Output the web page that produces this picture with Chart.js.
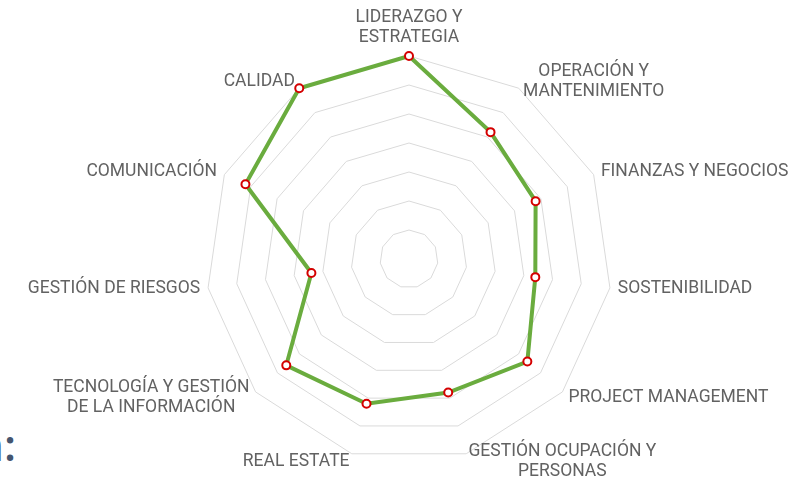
<!DOCTYPE html>
<html>
<head>
<meta charset="utf-8">
<script src="https://cdn.jsdelivr.net/npm/chart.js@4/dist/chart.umd.min.js"></script>
<style>
  html, body { margin: 0; padding: 0; background: #fff; }
  #wrap { position: relative; width: 808px; height: 479px; overflow: hidden; }
  #chart { position: absolute; left: 0; top: 0; }
  #heading { position: absolute; left: -24px; top: 422px; font: 600 44px "Open Sans"; line-height: 44px; color: #44556f; white-space: nowrap; }
</style>
</head>
<body>
<div id="wrap">
  <div id="heading">n:</div>
  <canvas id="chart" width="808" height="479"></canvas>
</div>
<script>
// axis names, clockwise from the top
const categories = [
	['LIDERAZGO Y', 'ESTRATEGIA'],
	['OPERACIÓN Y', 'MANTENIMIENTO'],
	['FINANZAS Y NEGOCIOS'],
	['SOSTENIBILIDAD'],
	['PROJECT MANAGEMENT'],
	['GESTIÓN OCUPACIÓN Y', 'PERSONAS'],
	['REAL ESTATE'],
	['TECNOLOGÍA Y GESTIÓN', 'DE LA INFORMACIÓN'],
	['GESTIÓN DE RIESGOS'],
	['COMUNICACIÓN'],
	['CALIDAD'],
];

const scores = [7.0, 5.2, 4.8, 4.4, 5.4, 4.8, 5.2, 5.6, 3.4, 6.2, 7.0];

const scaleMin = 0;
const scaleMax = 7;
const scaleStep = 1;

// labels drawn around the web, centred on a point just outside each spoke
const axisLabels = {
	id: 'axisLabels',
	afterDraw(chart) {
		const scale = chart.scales.r;
		const ctx = chart.ctx;
		const lineHeight = 20;
		ctx.save();
		ctx.font = '17.5px Roboto';
		ctx.fillStyle = '#626262';
		ctx.textAlign = 'center';
		ctx.textBaseline = 'middle';
		categories.forEach(function (lines, i) {
			const p = scale.getPointPosition(i, scale.drawingArea + 8);
			const a = scale.getIndexAngle(i);
			const w = Math.max.apply(null, lines.map(l => ctx.measureText(l).width));
			const h = lines.length * lineHeight;
			let left = p.x - w / 2;
			if (Math.sin(a) > 0.05) left = p.x;
			else if (Math.sin(a) < -0.05) left = p.x - w;
			let top = p.y - h / 2;
			if (Math.cos(a) > 0.99) top = p.y - h;
			else if (Math.cos(a) < -0.99) top = p.y;
			lines.forEach(function (line, k) {
				ctx.fillText(line, left + w / 2, top + lineHeight * (k + 0.5));
			});
		});
		ctx.restore();
	}
};

document.addEventListener("DOMContentLoaded", function () {
	const ctx = document.querySelector("#chart").getContext("2d");

	const data = {
		labels: categories,
		datasets: [{
			data: scores,
			borderColor: '#6aac3e',
			borderWidth: 4,
			fill: false,
			tension: 0,
			pointRadius: 4,
			pointHoverRadius: 4,
			pointBorderWidth: 2,
			pointBorderColor: '#d40000',
			pointBackgroundColor: '#fff',
		}]
	};

	const config = {
		type: 'radar',
		data: data,
		options: {
			responsive: false,
			animation: false,
			layout: {
				padding: { left: 206, right: 196, top: 56, bottom: 17 }
			},
			plugins: {
				legend: { display: false },
				tooltip: { enabled: false }
			},
			scales: {
				r: {
					min: scaleMin,
					max: scaleMax,
					ticks: { display: false, stepSize: scaleStep },
					grid: { color: '#dadada', lineWidth: 1 },
					angleLines: { display: false },
					pointLabels: { display: false }
				}
			}
		},
		plugins: [axisLabels]
	};

	new Chart(ctx, config);
});
</script>
</body>
</html>
